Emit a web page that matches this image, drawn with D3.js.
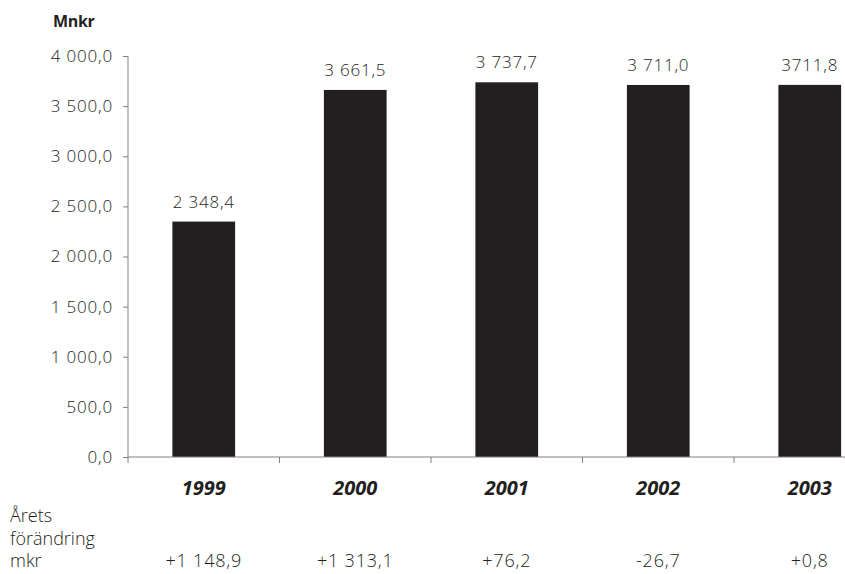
<!DOCTYPE html>
<html>
<head>
<meta charset="utf-8">
<script src="https://cdn.jsdelivr.net/npm/d3@7"></script>
<style>
  html, body { margin: 0; padding: 0; background: #fff; }
  svg { display: block; }
  text { font-family: "Open Sans", "DejaVu Sans", sans-serif; fill: #231f20; }
</style>
</head>
<body>
<svg id="chart" width="845" height="574"></svg>
<script>
// ---- data ----
const years = ["1999", "2000", "2001", "2002", "2003"];
const values = [2348.4, 3661.5, 3737.7, 3711.0, 3711.8];
const valueLabels = ["2 348,4", "3 661,5", "3 737,7", "3 711,0", "3711,8"];
const changeLabels = ["+1 148,9", "+1 313,1", "+76,2", "-26,7", "+0,8"];
const rowLabels = ["Årets", "förändring", "mkr"];
const yTicks = [0, 500, 1000, 1500, 2000, 2500, 3000, 3500, 4000];
const unitLabel = "Mnkr";

(function () {
// ---- layout ----
const svg = d3.select("#chart");
const plotLeft = 128, plotTop = 56, plotBottom = 457;
const step = 151.5;
const plotRight = plotLeft + years.length * step;

const sv = d3.formatLocale({decimal: ",", thousands: "\u00a0", grouping: [3], currency: ["", " kr"]});
const fmt = sv.format(",.1f");

const x = d3.scaleBand().domain(years).range([plotLeft, plotRight])
  .paddingInner(0.586).paddingOuter(0.293);
const y = d3.scaleLinear().domain([0, 4000]).range([plotBottom, plotTop]);

const axisColor = "#808080";

// bars
svg.append("g").selectAll("rect").data(values).join("rect")
  .attr("x", (d, i) => x(years[i]))
  .attr("y", d => y(d))
  .attr("width", x.bandwidth())
  .attr("height", d => y(0) - y(d))
  .attr("fill", "#231f20");

// y axis
const yAxis = d3.axisLeft(y).tickValues(yTicks).tickSize(5).tickPadding(10).tickFormat(fmt);
const gy = svg.append("g").attr("transform", `translate(${plotLeft},0)`).call(yAxis);
gy.select(".domain").attr("stroke", axisColor).attr("d", `M0,${plotTop}V${plotBottom + 6}`);
gy.selectAll(".tick line").attr("stroke", axisColor);
gy.selectAll(".tick text")
  .style("font-family", '"Open Sans", sans-serif')
  .style("font-weight", 300)
  .style("font-size", "17px")
  .style("letter-spacing", "0.8px")
  .attr("fill", "#231f20");

// x axis line with boundary ticks
const gx = svg.append("g");
gx.append("line").attr("x1", plotLeft).attr("x2", plotRight).attr("y1", y(0)).attr("y2", y(0))
  .attr("stroke", axisColor);
gx.selectAll("line.tk").data(d3.range(1, years.length + 1)).join("line")
  .attr("class", "tk")
  .attr("x1", k => plotLeft + k * x.step()).attr("x2", k => plotLeft + k * x.step())
  .attr("y1", y(0)).attr("y2", y(0) + 6)
  .attr("stroke", axisColor);

// value labels
svg.append("g").selectAll("text").data(values).join("text")
  .attr("x", (d, i) => x(years[i]) + x.bandwidth() / 2)
  .attr("y", d => y(d) - 14)
  .attr("text-anchor", "middle")
  .style("font-weight", 300)
  .style("font-size", "17px")
  .style("letter-spacing", "0.8px")
  .text((d, i) => valueLabels[i]);

// year labels
svg.append("g").selectAll("text").data(years).join("text")
  .attr("x", d => x(d) + x.bandwidth() / 2)
  .attr("y", 495)
  .attr("text-anchor", "middle")
  .style("font-weight", 700)
  .style("font-style", "italic")
  .style("font-size", "20px")
  .text(d => d);

// row labels
svg.append("g").selectAll("text").data(rowLabels).join("text")
  .attr("x", 10)
  .attr("y", (d, i) => 522 + i * 22.5)
  .style("font-weight", 300)
  .style("font-size", "18px")
  .text(d => d);

// change values
svg.append("g").selectAll("text").data(changeLabels).join("text")
  .attr("x", (d, i) => x(years[i]) + x.bandwidth() / 2)
  .attr("y", 567)
  .attr("text-anchor", "middle")
  .style("font-weight", 300)
  .style("font-size", "18px")
  .style("letter-spacing", "0.8px")
  .text(d => d);

// unit label
svg.append("text")
  .attr("x", 53).attr("y", 27)
  .style("font-weight", 700)
  .style("font-size", "16px")
  .style("letter-spacing", "-0.3px")
  .text(unitLabel);
})();
</script>
</body>
</html>
